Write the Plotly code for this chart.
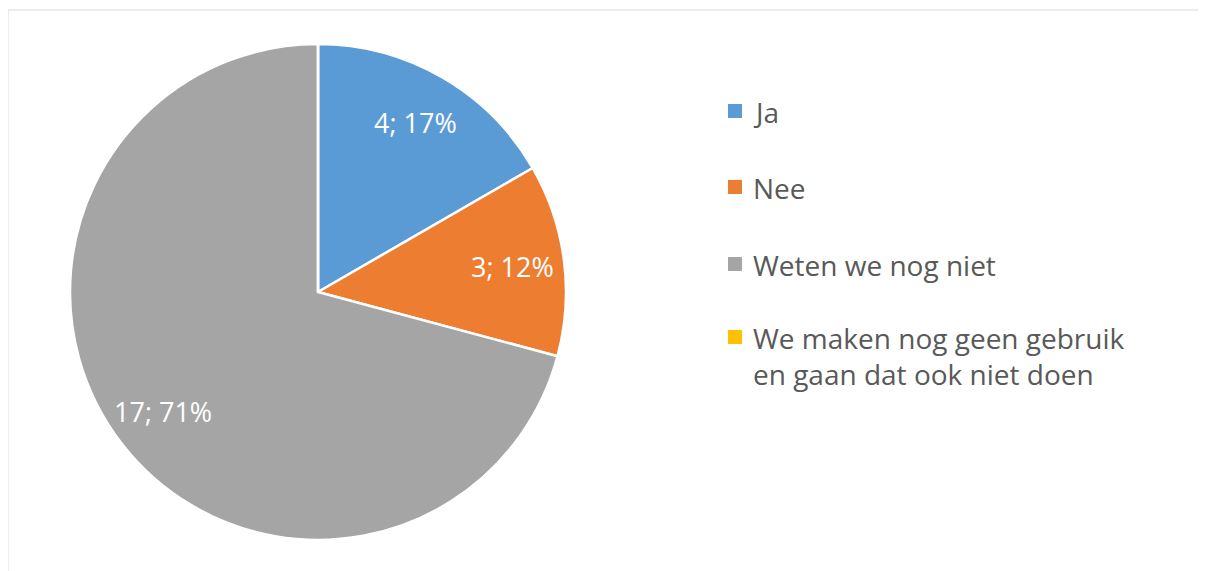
import math
import plotly.graph_objects as go

categories = ["Ja", "Nee", "Weten we nog niet", "We maken nog geen gebruik en gaan dat ook niet doen"]
values = [4, 3, 17, 0]
percent_labels = ["17%", "12%", "71%", "0%"]
colors = ["#5B9BD5", "#ED7D31", "#A5A5A5", "#FFC000"]

# browser body margin offsets the plot by 8px
OFF = 8
W, H = 1206 - OFF, 571 - OFF
FONT = "Open Sans"

def px(x):
    return (x - OFF) / W

def py(y):
    return 1 - (y - OFF) / H

texts = [f"{v}; {p}" for v, p in zip(values, percent_labels)]
PIE_L, PIE_R, PIE_T, PIE_B = 70, 566, 44, 540
dom = dict(x=[px(PIE_L), px(PIE_R)], y=[py(PIE_B), py(PIE_T)])

fig = go.Figure()
fig.add_trace(go.Pie(
    labels=categories,
    values=values,
    sort=False,
    direction="clockwise",
    rotation=0,
    marker=dict(colors=colors, line=dict(color="white", width=2.5)),
    textinfo="none",
    domain=dom,
    showlegend=False,
    hoverinfo="label+value+percent",
))

# data labels placed along each slice's mid-angle at ~79% of the radius (Excel style)
cx, cy = (PIE_L + PIE_R) / 2, (PIE_T + PIE_B) / 2
R = (PIE_R - PIE_L) / 2
total = sum(values)
cum = 0
for v, t in zip(values, texts):
    if v > 0:
        ang = 2 * math.pi * (cum + v / 2) / total
        lx = cx + 0.79 * R * math.sin(ang)
        ly = cy - 0.79 * R * math.cos(ang)
        fig.add_annotation(xref="paper", yref="paper", x=px(lx), y=py(ly),
                           xanchor="center", yanchor="middle", showarrow=False,
                           text=t, font=dict(family=FONT, size=27, color="white"))
    cum += v

# manual legend
legend_y = [111, 187, 264, 337]

def wrap(s):
    if len(s) > 30:
        words = s.split(" ")
        return " ".join(words[:5]) + "<br>" + " ".join(words[5:])
    return s

for cat, col, yc in zip(categories, colors, legend_y):
    fig.add_shape(type="rect", xref="paper", yref="paper",
                  x0=px(728), x1=px(742), y0=py(yc - 7), y1=py(yc + 7),
                  fillcolor=col, line=dict(width=0))
    fig.add_annotation(xref="paper", yref="paper", x=px(751), y=py(yc - 20),
                       xanchor="left", yanchor="top", align="left", showarrow=False,
                       text=wrap(cat), font=dict(family=FONT, size=28, color="#595959"))

# chart frame (partially visible)
fig.add_shape(type="line", xref="paper", yref="paper", x0=px(8), x1=1, y0=py(10), y1=py(10),
              line=dict(color="#D9D9D9", width=1))
fig.add_shape(type="line", xref="paper", yref="paper", x0=px(8), x1=px(8), y0=py(10), y1=0,
              line=dict(color="#D9D9D9", width=1))

fig.update_layout(width=W, height=H, margin=dict(l=0, r=0, t=0, b=0),
                  paper_bgcolor="white", plot_bgcolor="white")
fig.write_html("out.html")
